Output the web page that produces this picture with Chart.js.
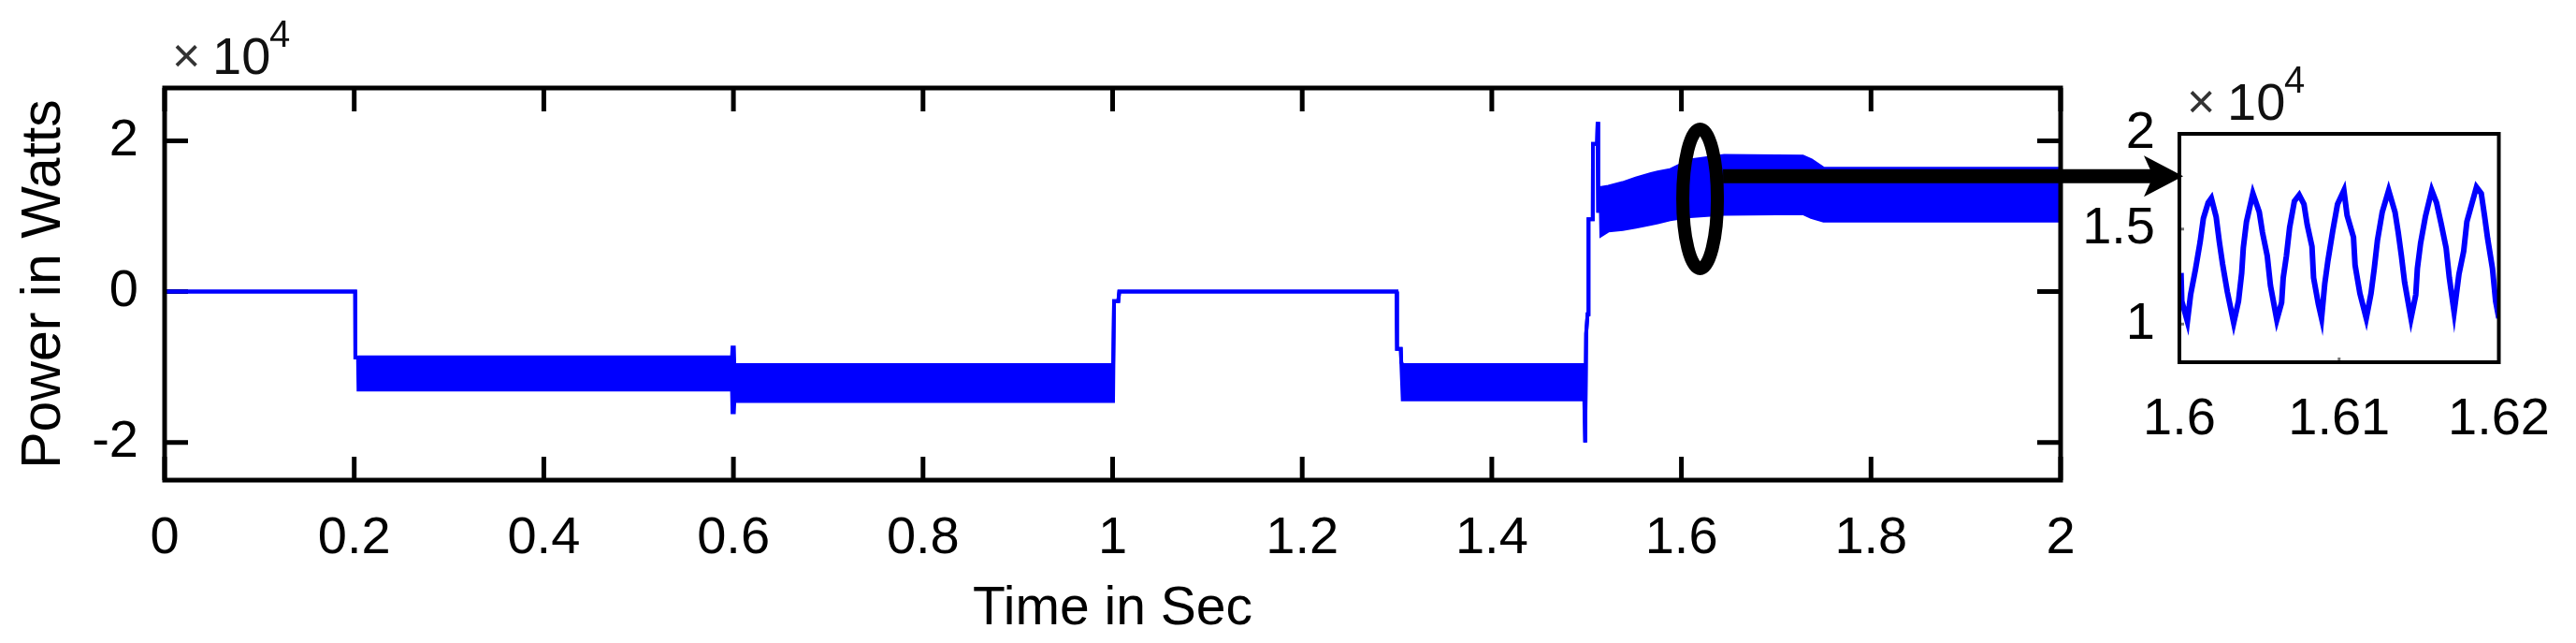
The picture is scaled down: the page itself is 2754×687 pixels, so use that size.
<!DOCTYPE html>
<html>
<head>
<meta charset="utf-8">
<title>Power in Watts</title>
<script src="https://cdn.jsdelivr.net/npm/chart.js@4.4.1/dist/chart.umd.min.js"></script>
<style>
  html, body { margin: 0; padding: 0; background: #fff; }
  #wrap { position: relative; width: 2754px; height: 687px; overflow: hidden; background: #fff; }
  #mainChart { position: absolute; left: 0; top: 0; }
  #zoomChart { position: absolute; left: 2150px; top: 0; }
</style>
</head>
<body>
<div id="wrap">
  <canvas id="mainChart" width="2754" height="687"></canvas>
  <canvas id="zoomChart" width="604" height="687"></canvas>
</div>
<script>
/* ==========================================
   DATA  (time in s, power in W)
   main trace: upper / lower envelope of the ripple band,
   both equal where the trace is a single line
   ========================================== */
const timeS = [
  0, 0.2010, 0.2012, 0.2040, 0.2045, 0.5985, 0.5990, 0.6005, 0.6010, 1.0005,
  1.0015, 1.0060, 1.0070, 1.2995, 1.3000, 1.3040, 1.3045, 1.3060, 1.4975, 1.4985,
  1.4995, 1.5010, 1.5018, 1.5020, 1.5065, 1.5067, 1.5110, 1.5116, 1.5122, 1.5150,
  1.5155, 1.5230, 1.5380, 1.5520, 1.5680, 1.5750, 1.5880, 1.6090, 1.6450, 1.7280,
  1.7370, 1.7500, 2.0000
];
const upperW = [
  0, 0, -8750, -8750, -8700, -8700, -7400, -7400, -9750, -9750,
  -1250, -1250, 0, 0, -7600, -7600, -9400, -9750, -9750, -20000,
  -5600, -3000, -3000, 9600, 9600, 19600, 19600, 22500, 10700, 10700,
  13750, 13900, 14400, 15000, 15600, 15800, 16100, 17400, 18000, 17900,
  17400, 16300, 16300
];
const lowerW = [
  0, 0, -8750, -8750, -13000, -13000, -16000, -16000, -14500, -14500,
  -1250, -1250, 0, 0, -7600, -7600, -9400, -14300, -14300, -20000,
  -5600, -3000, -3000, 9600, 9600, 19600, 19600, 22500, 10700, 10700,
  7500, 8100, 8300, 8600, 9000, 9200, 9600, 10000, 10300, 10400,
  9900, 9400, 9400
];

const xTicks      = [0, 0.2, 0.4, 0.6, 0.8, 1, 1.2, 1.4, 1.6, 1.8, 2];
const xTickLabels = ['0', '0.2', '0.4', '0.6', '0.8', '1', '1.2', '1.4', '1.6', '1.8', '2'];
const yTicks      = [-20000, 0, 20000];
const yTickLabels = ['-2', '0', '2'];

// zoomed window 1.6 – 1.62 s
const zoomTimeS = [
  1.6001, 1.60015, 1.6005, 1.6007, 1.6010, 1.6013, 1.6015, 1.6018, 1.6020, 1.6023,
  1.6025, 1.6027, 1.6030, 1.6034, 1.6037, 1.6039, 1.6040, 1.6042, 1.6046, 1.6050,
  1.6052, 1.6055, 1.6057, 1.6061, 1.6064, 1.6065, 1.6067, 1.6069, 1.6072, 1.6075,
  1.6078, 1.6080, 1.6083, 1.6084, 1.6087, 1.6089, 1.6091, 1.6093, 1.6096, 1.6099,
  1.6103, 1.6105, 1.6109, 1.6110, 1.6113, 1.6117, 1.6120, 1.6122, 1.6124, 1.6127,
  1.6131, 1.6135, 1.6137, 1.6139, 1.6141, 1.6145, 1.6148, 1.6149, 1.6151, 1.6154,
  1.6158, 1.6161, 1.6164, 1.6167, 1.6169, 1.6172, 1.6175, 1.6178, 1.6180, 1.6183,
  1.6186, 1.6189, 1.6191, 1.6193, 1.6196, 1.6198, 1.6200
];
const zoomPowerW = [
  12690, 11210, 10150, 11540, 12850, 14330, 15560, 16380, 16620, 15640,
  14330, 13180, 11700, 10070, 11210, 12690, 14000, 15390, 16870, 15890,
  14820, 13590, 12030, 10230, 11130, 12440, 13590, 15070, 16460, 16790,
  16300, 15230, 14080, 12440, 11050, 10310, 12110, 13340, 14900, 16300,
  17030, 15720, 14570, 13100, 11620, 10310, 11620, 12930, 14410, 15890,
  17030, 15890, 14820, 13590, 12200, 10310, 11540, 12930, 14250, 15640,
  17030, 16380, 15230, 14000, 12440, 10640, 12610, 13840, 15390, 16300,
  17200, 16870, 15720, 14490, 12930, 11210, 10310
];

const zoomXTicks      = [1.6, 1.61, 1.62];
const zoomXTickLabels = ['1.6', '1.61', '1.62'];
const zoomYTicks      = [10000, 15000, 20000];
const zoomYTickLabels = ['1', '1.5', '2'];

/* ==========================================
   STYLE
   ========================================== */
const FONT_FAMILY = '"Liberation Sans", Arial, Helvetica, sans-serif';
const FONT_SIZE   = 56;
const TRACE_BLUE  = '#0000ff';
const tickFont    = { family: FONT_FAMILY, size: FONT_SIZE };

Chart.defaults.font.family = FONT_FAMILY;
Chart.defaults.color = '#000';

const pairs = (xs, ys) => xs.map((x, i) => ({ x, y: ys[i] }));

/* ==========================================
   PLUGINS
   ========================================== */
// MATLAB-style box: inward ticks (under the trace), frame and x10^4 exponent
const framePlugin = {
  id: 'frame',
  beforeDatasetsDraw(chart, args, o) {
    const { ctx, chartArea: a, scales: { x, y } } = chart;
    ctx.save();
    ctx.strokeStyle = o.tickColor;
    ctx.lineWidth = o.tickWidth;
    ctx.beginPath();
    o.xTicks.forEach(v => {
      const px = x.getPixelForValue(v);
      ctx.moveTo(px, a.bottom); ctx.lineTo(px, a.bottom - o.tickLen);
      if (o.allSides) { ctx.moveTo(px, a.top); ctx.lineTo(px, a.top + o.tickLen); }
    });
    o.yTicks.forEach(v => {
      const py = y.getPixelForValue(v);
      ctx.moveTo(a.left, py); ctx.lineTo(a.left + o.tickLen, py);
      if (o.allSides) { ctx.moveTo(a.right, py); ctx.lineTo(a.right - o.tickLen, py); }
    });
    ctx.stroke();
    ctx.restore();
  },
  afterDatasetsDraw(chart, args, o) {
    const { ctx, chartArea: a } = chart;
    ctx.save();
    ctx.strokeStyle = '#000';
    ctx.lineWidth = o.boxWidth;
    ctx.strokeRect(a.left, a.top, a.width, a.height);

    // exponent label
    const ex = a.left + 8, ey = a.top - 15;
    ctx.fillStyle = '#333';
    ctx.textBaseline = 'alphabetic';
    ctx.textAlign = 'left';
    ctx.font = `${FONT_SIZE - 4}px ${FONT_FAMILY}`;
    ctx.fillText('\u00d7', ex, ey - 2);
    ctx.fillStyle = '#111';
    ctx.font = `${FONT_SIZE}px ${FONT_FAMILY}`;
    ctx.fillText('10', ex + 43, ey);
    ctx.font = `${Math.round(FONT_SIZE * 0.72)}px ${FONT_FAMILY}`;
    ctx.fillText('4', ex + 104, ey - 29);
    ctx.restore();
  }
};

// ellipse around the ripple and the arrow to the zoom box
const calloutPlugin = {
  id: 'callout',
  afterDraw(chart, args, o) {
    const { ctx, scales: { x, y } } = chart;
    const cx = x.getPixelForValue(o.t);
    const cy = y.getPixelForValue(o.w);
    const ay = y.getPixelForValue(o.arrowW);
    ctx.save();
    ctx.strokeStyle = '#000';
    ctx.fillStyle = '#000';
    ctx.lineWidth = 14;
    ctx.beginPath();
    ctx.ellipse(cx, cy, o.rx, o.ry, 0, 0, Math.PI * 2);
    ctx.stroke();

    ctx.lineWidth = 15;
    ctx.beginPath();
    ctx.moveTo(cx + o.rx + 6, ay);
    ctx.lineTo(o.tipX - 30, ay);
    ctx.stroke();

    ctx.beginPath();
    ctx.moveTo(o.tipX, ay);
    ctx.lineTo(o.tipX - 42, ay - 22);
    ctx.lineTo(o.tipX - 32, ay);
    ctx.lineTo(o.tipX - 42, ay + 22);
    ctx.closePath();
    ctx.fill();
    ctx.restore();
  }
};

/* ==========================================
   MAIN CHART
   ========================================== */
new Chart(document.getElementById('mainChart').getContext('2d'), {
  type: 'line',
  data: {
    datasets: [
      {
        label: 'upper',
        data: pairs(timeS, upperW),
        borderColor: TRACE_BLUE,
        borderWidth: 4,
        fill: false,
        pointRadius: 0
      },
      {
        label: 'lower',
        data: pairs(timeS, lowerW),
        borderColor: TRACE_BLUE,
        backgroundColor: TRACE_BLUE,
        borderWidth: 4,
        fill: '-1',
        pointRadius: 0
      }
    ]
  },
  options: {
    responsive: false,
    animation: false,
    devicePixelRatio: 1,
    layout: { padding: { left: 0, right: 551, top: 94, bottom: 0 } },
    elements: { line: { tension: 0 }, point: { radius: 0 } },
    plugins: {
      legend: { display: false },
      tooltip: { enabled: false },
      frame: {
        xTicks, yTicks, tickLen: 25, tickWidth: 5, tickColor: '#000',
        allSides: true, boxWidth: 5
      },
      callout: { t: 1.6197, w: 12300, rx: 18.5, ry: 74.5, arrowW: 15300, tipX: 2334 }
    },
    scales: {
      x: {
        type: 'linear',
        min: 0, max: 2,
        grid: { display: false, drawTicks: false },
        border: { display: false },
        afterBuildTicks: s => { s.ticks = xTicks.map(v => ({ value: v })); },
        ticks: {
          font: tickFont, color: '#000', padding: 29,
          maxRotation: 0, autoSkip: false,
          callback: (v, i) => xTickLabels[i]
        },
        title: {
          display: true, text: 'Time in Sec',
          font: { family: FONT_FAMILY, size: 57 }, color: '#000',
          padding: { top: 0, bottom: 2 }
        },
        afterFit: s => { s.height = 174; }
      },
      y: {
        type: 'linear',
        min: -25000, max: 27000,
        grid: { display: false, drawTicks: false },
        border: { display: false },
        afterBuildTicks: s => { s.ticks = yTicks.map(v => ({ value: v })); },
        ticks: {
          font: tickFont, color: '#000', padding: 28,
          callback: (v, i) => yTickLabels[i]
        },
        title: {
          display: true, text: 'Power in Watts',
          font: { family: FONT_FAMILY, size: 59 }, color: '#000',
          padding: { top: 12, bottom: 0 }
        },
        afterFit: s => { s.width = 176; }
      }
    }
  },
  plugins: [framePlugin, calloutPlugin]
});

/* ==========================================
   ZOOM INSET
   ========================================== */
new Chart(document.getElementById('zoomChart').getContext('2d'), {
  type: 'line',
  data: {
    datasets: [{
      label: 'zoom',
      data: pairs(zoomTimeS, zoomPowerW),
      borderColor: TRACE_BLUE,
      borderWidth: 6,
      fill: false,
      pointRadius: 0
    }]
  },
  options: {
    responsive: false,
    animation: false,
    devicePixelRatio: 1,
    layout: { padding: { left: 0, right: 78, top: 143, bottom: 0 } },
    elements: { line: { tension: 0 }, point: { radius: 0 } },
    plugins: {
      legend: { display: false },
      tooltip: { enabled: false },
      frame: {
        xTicks: zoomXTicks, yTicks: zoomYTicks, tickLen: 5, tickWidth: 3,
        tickColor: '#777', allSides: false, boxWidth: 4
      }
    },
    scales: {
      x: {
        type: 'linear',
        min: 1.6, max: 1.62,
        grid: { display: false, drawTicks: false },
        border: { display: false },
        afterBuildTicks: s => { s.ticks = zoomXTicks.map(v => ({ value: v })); },
        ticks: {
          font: tickFont, color: '#000', padding: 28,
          maxRotation: 0, autoSkip: false,
          callback: (v, i) => zoomXTickLabels[i]
        },
        afterFit: s => { s.height = 300; }
      },
      y: {
        type: 'linear',
        min: 8000, max: 20000,
        grid: { display: false, drawTicks: false },
        border: { display: false },
        afterBuildTicks: s => { s.ticks = zoomYTicks.map(v => ({ value: v })); },
        ticks: {
          font: tickFont, color: '#000', padding: 26,
          callback: (v, i) => zoomYTickLabels[i]
        },
        afterFit: s => { s.width = 180; }
      }
    }
  },
  plugins: [framePlugin]
});
</script>
</body>
</html>
